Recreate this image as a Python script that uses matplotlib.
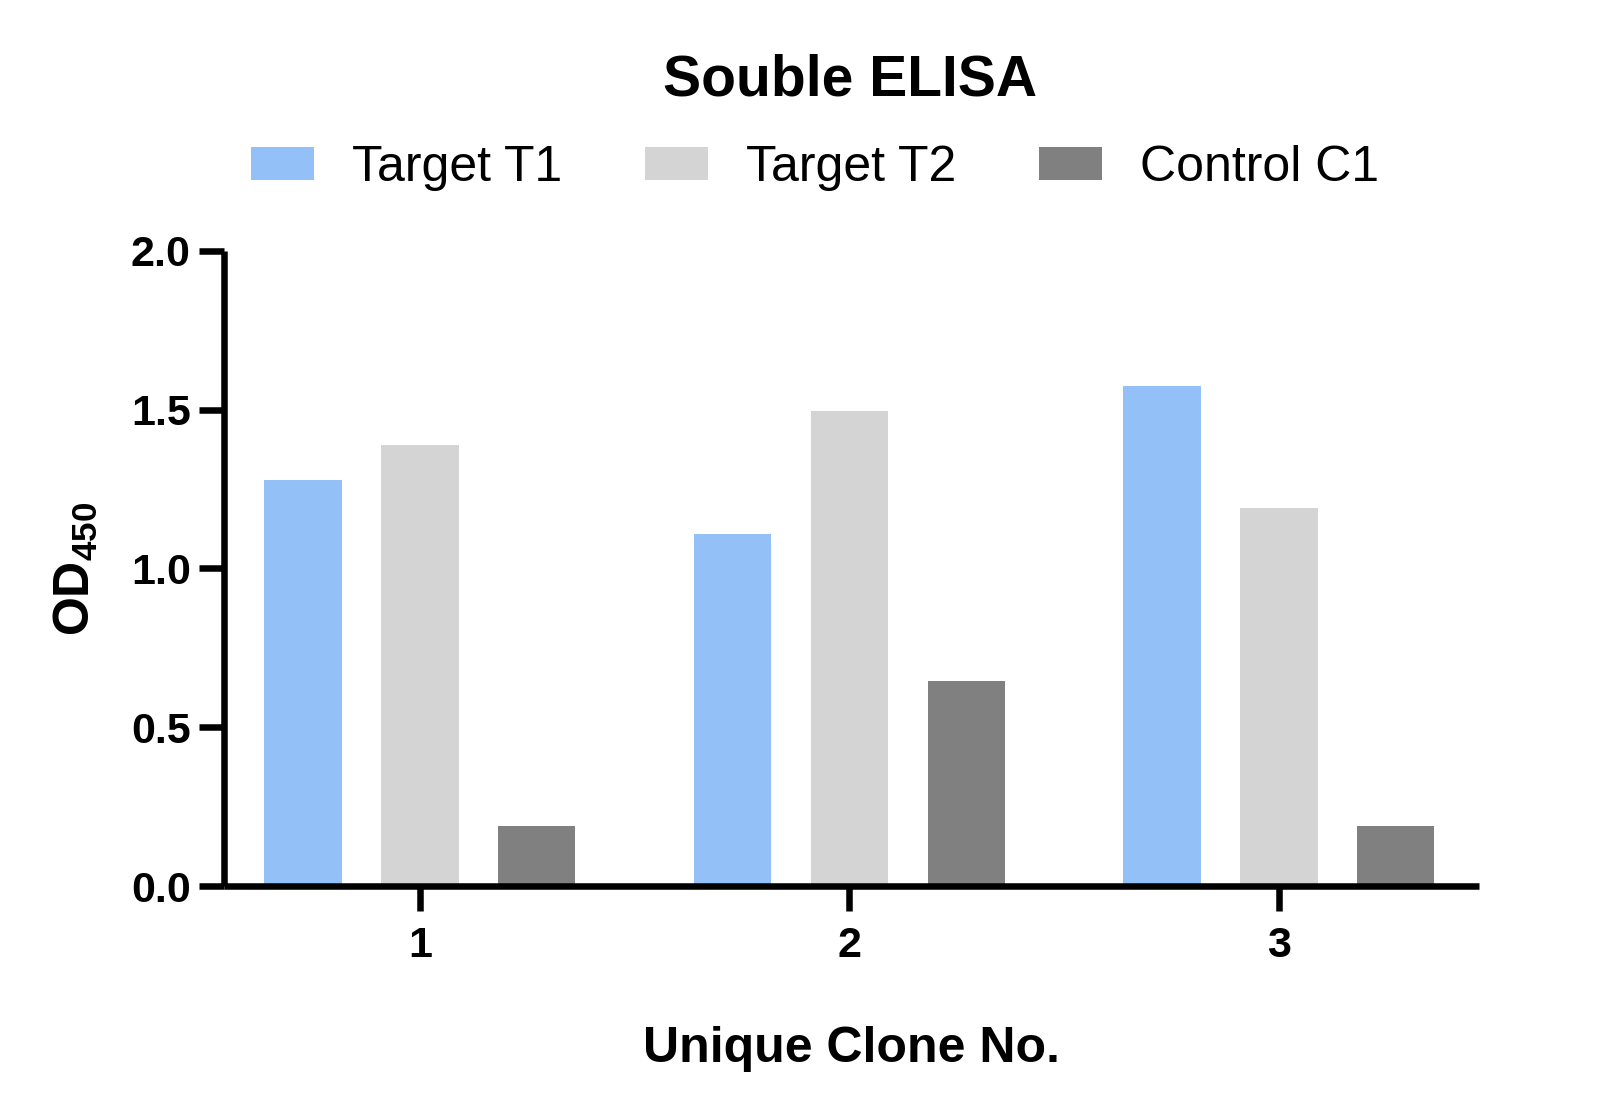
import numpy as np
import matplotlib
matplotlib.use('Agg')
import matplotlib.pyplot as plt

plt.rcParams['font.family'] = ['Liberation Sans', 'DejaVu Sans']
plt.rcParams['mathtext.fontset'] = 'custom'
plt.rcParams['mathtext.rm'] = 'Liberation Sans'
plt.rcParams['mathtext.bf'] = 'Liberation Sans:bold'

# values
clones = [1, 2, 3]
series_names = ['Target T1', 'Target T2', 'Control C1']
target_t1 = [1.28, 1.11, 1.575]
target_t2 = [1.39, 1.495, 1.19]
control_c1 = [0.19, 0.645, 0.19]
colors = ['#94C0F8', '#D4D4D4', '#808080']

fig = plt.figure(figsize=(16.2, 11.17), dpi=100)
ax = fig.add_axes([0.1383, 0.2068, 0.913 - 0.1383, 0.7753 - 0.2068])

x = np.array(clones, dtype=float)
width = 0.18
offset = 0.272
bars = []
for i, vals in enumerate([target_t1, target_t2, control_c1]):
    b = ax.bar(x + (i - 1) * offset, vals, width, color=colors[i],
               label=series_names[i], zorder=1)
    bars.append(b)

ax.set_xlim(0.544, 3.466)
ax.set_ylim(0, 2.0)
ax.set_xticks(clones)
ax.set_xticklabels([str(c) for c in clones])
ax.set_yticks([0.0, 0.5, 1.0, 1.5, 2.0])
ax.set_yticklabels(['0.0', '0.5', '1.0', '1.5', '2.0'])

for side in ['top', 'right']:
    ax.spines[side].set_visible(False)
for side in ['left', 'bottom']:
    ax.spines[side].set_linewidth(4.7)
    ax.spines[side].set_capstyle('butt')

ax.tick_params(axis='both', width=4.7, length=18, direction='out')
ax.tick_params(axis='y', pad=6, labelsize=31)
ax.tick_params(axis='x', pad=11, labelsize=31)
for lab in ax.get_xticklabels() + ax.get_yticklabels():
    lab.set_fontweight('bold')

ax.set_xlabel('Unique Clone No.', fontsize=36, fontweight='bold', labelpad=43)
ax.set_ylabel(r'$\mathbf{OD}_{\mathbf{450}}$', fontsize=36, labelpad=22)

fig.text(0.5247, 1 - 80 / 1117, 'Souble ELISA', fontsize=41, fontweight='bold',
         ha='center', va='center')

fig.legend(handles=bars, labels=series_names, loc='center',
           bbox_to_anchor=(815 / 1620, 1 - 168 / 1117), ncol=3, frameon=False,
           fontsize=36, handlelength=1.26, handleheight=0.62,
           handletextpad=0.76, columnspacing=1.65)

fig.savefig('out.png', dpi=100)
